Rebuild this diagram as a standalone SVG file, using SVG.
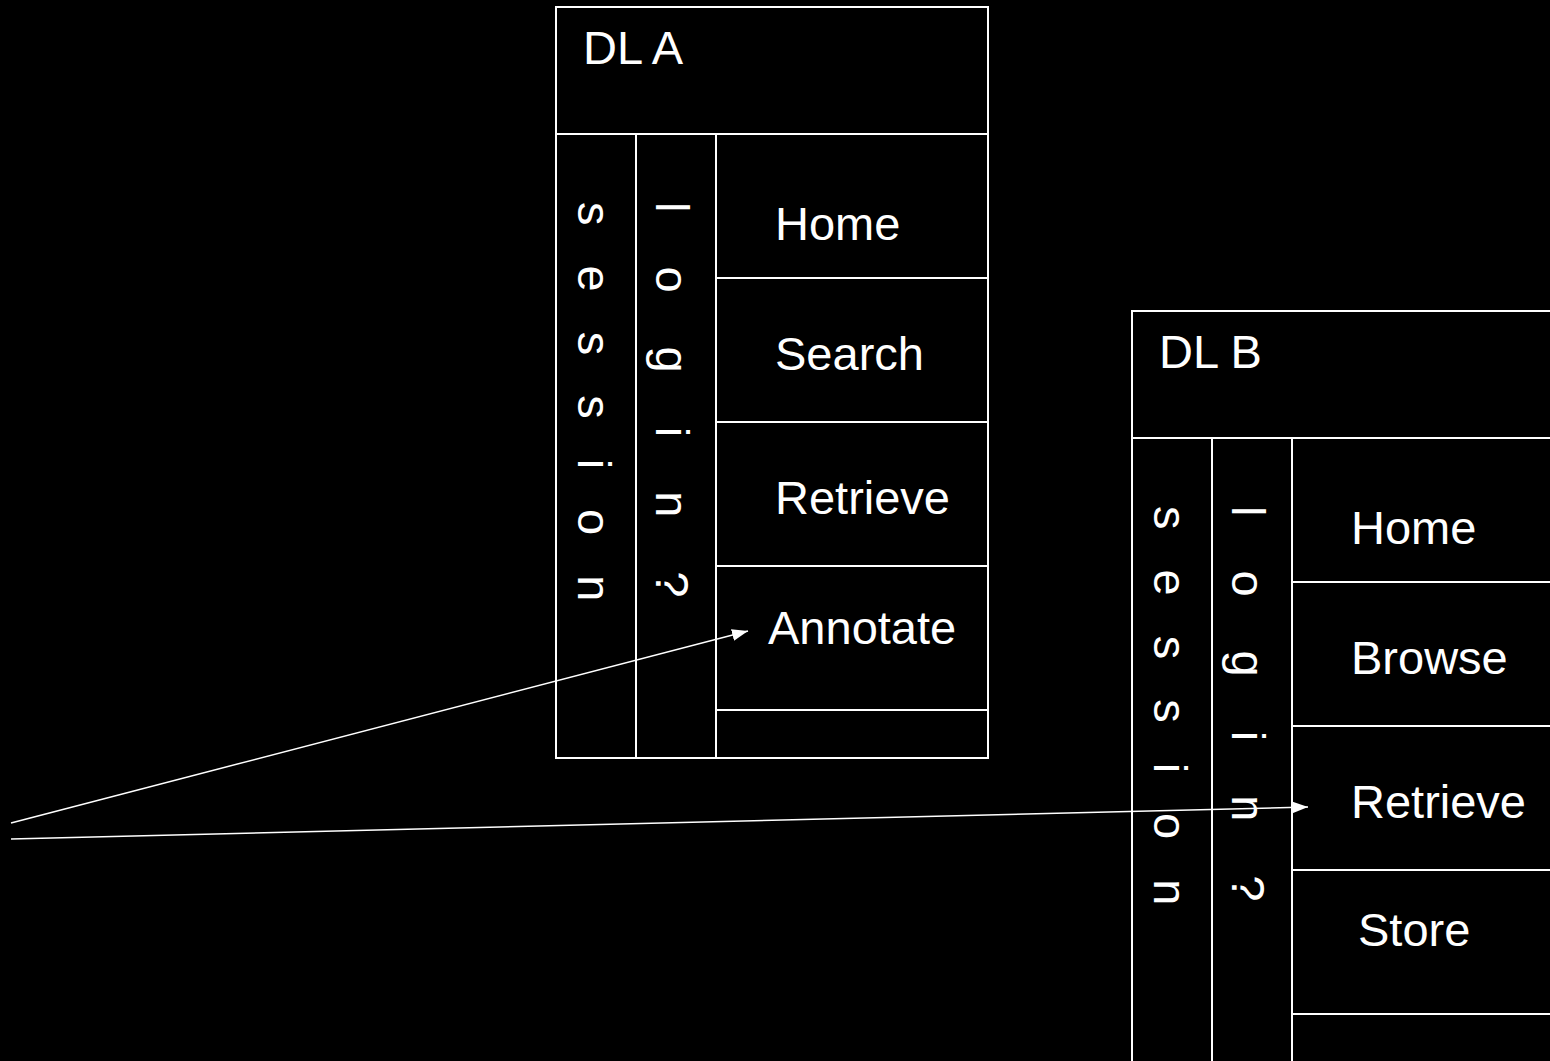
<svg xmlns="http://www.w3.org/2000/svg" width="1550" height="1061" viewBox="0 0 1550 1061">
<defs>
<style>
.bg{fill:#000}
.box{fill:none;stroke:#fff;stroke-width:2}
.ln{stroke:#fff;stroke-width:2}
.t{font-family:"Liberation Sans",Arial,sans-serif;font-size:47px;fill:#fff}
.conn{stroke:#fff;stroke-width:1.5;fill:none}
</style>
<marker id="ah" viewBox="0 0 16 12" refX="16" refY="6" markerWidth="16" markerHeight="12" markerUnits="userSpaceOnUse" orient="auto">
<path d="M0,0 L16,6 L0,12 Z" fill="#fff"/>
</marker>
</defs>
<rect class="bg" x="0" y="0" width="1550" height="1061"/>
<g id="dlA">
<rect class="box" x="556" y="7" width="432" height="751"/>
<line class="ln" x1="556" y1="134" x2="988" y2="134"/>
<line class="ln" x1="636" y1="134" x2="636" y2="758"/>
<line class="ln" x1="716" y1="134" x2="716" y2="758"/>
<line class="ln" x1="716" y1="278" x2="988" y2="278"/>
<line class="ln" x1="716" y1="422" x2="988" y2="422"/>
<line class="ln" x1="716" y1="566" x2="988" y2="566"/>
<line class="ln" x1="716" y1="710" x2="988" y2="710"/>
<text class="t" x="583" y="64">DL A</text>
<text class="t" transform="translate(578,202) rotate(90)" letter-spacing="40">session</text>
<text class="t" transform="translate(656,202) rotate(90)" letter-spacing="54">login?</text>
<text class="t" x="775" y="240">Home</text>
<text class="t" x="775" y="370">Search</text>
<text class="t" x="775" y="514">Retrieve</text>
<text class="t" x="768" y="644">Annotate</text>
</g>
<g id="dlB">
<rect class="box" x="1132" y="311" width="432" height="751"/>
<line class="ln" x1="1132" y1="438" x2="1564" y2="438"/>
<line class="ln" x1="1212" y1="438" x2="1212" y2="1062"/>
<line class="ln" x1="1292" y1="438" x2="1292" y2="1062"/>
<line class="ln" x1="1292" y1="582" x2="1564" y2="582"/>
<line class="ln" x1="1292" y1="726" x2="1564" y2="726"/>
<line class="ln" x1="1292" y1="870" x2="1564" y2="870"/>
<line class="ln" x1="1292" y1="1014" x2="1564" y2="1014"/>
<text class="t" x="1159" y="368">DL B</text>
<text class="t" transform="translate(1154,506) rotate(90)" letter-spacing="40">session</text>
<text class="t" transform="translate(1232,506) rotate(90)" letter-spacing="54">login?</text>
<text class="t" x="1351" y="544">Home</text>
<text class="t" x="1351" y="674">Browse</text>
<text class="t" x="1351" y="818">Retrieve</text>
<text class="t" x="1358" y="946">Store</text>
</g>
<g id="connectors">
<line class="conn" x1="11" y1="823" x2="748" y2="631" marker-end="url(#ah)"/>
<line class="conn" x1="11" y1="839" x2="1308" y2="807" marker-end="url(#ah)"/>
</g>
</svg>
